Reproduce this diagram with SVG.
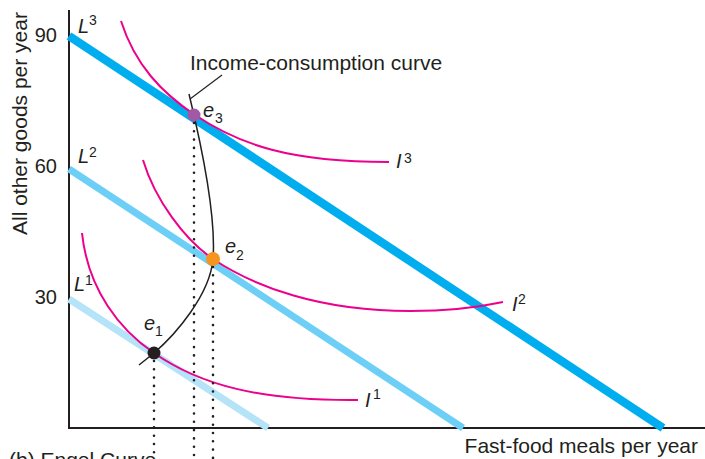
<svg xmlns="http://www.w3.org/2000/svg" width="705" height="459" viewBox="0 0 705 459">
<style>
text{font-family:"Liberation Sans",Arial,Helvetica,sans-serif;fill:#231F20}
.lab{font-size:21px}
.tick{font-size:20px;text-anchor:end}
.it{font-style:italic}
.big{font-size:20px}
.sm{font-size:14px}
.budget{fill:none;stroke-linecap:butt}
.ic{fill:none;stroke:#EC008C;stroke-width:2}
.dot{fill:none;stroke:#231F20;stroke-width:2.6;stroke-linecap:round;stroke-dasharray:0 8.3}
.axis{fill:none;stroke:#231F20;stroke-width:2}
</style>
<rect width="705" height="459" fill="#fff"/>
<g id="axes">
<path class="axis" d="M69,10 V428 H705"/>
<text class="tick" x="57" y="42">90</text>
<text class="tick" x="57" y="173">60</text>
<text class="tick" x="57" y="304">30</text>
<text class="lab" transform="translate(27,235) rotate(-90)">All other goods per year</text>
<text class="lab" x="698" y="453" text-anchor="end">Fast-food meals per year</text>
<text class="lab" x="9" y="467">(b) Engel Curve</text>
</g>
<g id="L1">
<line class="budget" x1="69" y1="299" x2="268" y2="428" stroke="#B5E3F8" stroke-width="7"/>
<text class="it big" x="74" y="291">L</text><text class="sm" x="85" y="285">1</text>
</g>
<g id="L2">
<line class="budget" x1="69" y1="169" x2="463" y2="428" stroke="#6DCFF6" stroke-width="7"/>
<text class="it big" x="78" y="163">L</text><text class="sm" x="89" y="157">2</text>
</g>
<g id="L3">
<line class="budget" x1="69" y1="36" x2="663" y2="428" stroke="#00AEEF" stroke-width="8.5"/>
<text class="it big" x="78" y="33">L</text><text class="sm" x="89" y="25">3</text>
</g>
<g id="I1">
<path class="ic" d="M82,233 C88,290 120,330 154,353 C200,385 260,401 358,400"/>
<text class="it big" x="365" y="407">I</text><text class="sm" x="373" y="399">1</text>
</g>
<g id="I2">
<path class="ic" d="M143,160 C155,200 185,240 213,259 C255,287 320,311 410,311 C450,311 480,307 503,302"/>
<text class="it big" x="512" y="311">I</text><text class="sm" x="518" y="304">2</text>
</g>
<g id="I3">
<path class="ic" d="M121,21 C135,65 162,93 195,115 C240,145 290,162 389,162"/>
<text class="it big" x="396" y="168">I</text><text class="sm" x="404" y="163">3</text>
</g>
<g id="connectors">
<path d="M139,365 L154,353 C175,335 210,295 213,259 C216,220 205,160 189,94" fill="none" stroke="#231F20" stroke-width="1.5"/>
<line x1="190" y1="99" x2="222" y2="75" stroke="#231F20" stroke-width="1.2"/>
<line class="dot" x1="154" y1="361" x2="154" y2="459"/>
<line class="dot" x1="194" y1="123" x2="194" y2="459"/>
<line class="dot" x1="213" y1="267" x2="213" y2="459"/>
</g>
<g id="label-icc">
<text class="lab" x="190" y="70">Income-consumption curve</text>
</g>
<g id="e1">
<circle cx="154" cy="353" r="6.5" fill="#231F20"/>
<text class="it big" x="144" y="330">e</text><text class="sm" x="155" y="336">1</text>
</g>
<g id="e2">
<circle cx="213" cy="259" r="7" fill="#F7941D"/>
<text class="it big" x="225" y="253">e</text><text class="sm" x="236" y="260">2</text>
</g>
<g id="e3">
<circle cx="194" cy="115" r="6.5" fill="#A05AA5"/>
<text class="it big" x="203" y="117">e</text><text class="sm" x="215" y="123">3</text>
</g>
</svg>
